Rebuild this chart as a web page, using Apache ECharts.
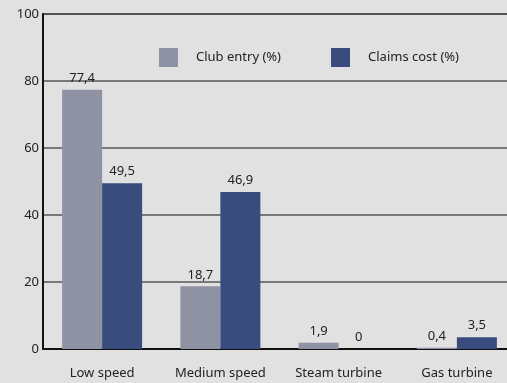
<!DOCTYPE html>
<html>
<head>
<meta charset="utf-8">
<script src="https://cdn.jsdelivr.net/npm/echarts@6/dist/echarts.min.js"></script>
<style>
  html, body { margin: 0; padding: 0; background: #e1e1e1; overflow: hidden; }
  /* plot area runs slightly past the right edge of the window */
  #chart { width: 516px; height: 383px; }
</style>
</head>
<body>
<div id="chart"></div>
<script>
// Engine types and their share of club entries vs. claims cost
const categories = ['Low speed', 'Medium speed', 'Steam turbine', 'Gas turbine'];
const clubEntry = [77.4, 18.7, 1.9, 0.4];
const claimsCost = [49.5, 46.9, 0, 3.5];
const yTicks = [0, 20, 40, 60, 80, 100];

const FONT = '"Noto Sans", Lato, sans-serif';
const fmt = p => String(p.value).replace('.', ',');

const chart = echarts.init(document.getElementById('chart'));
chart.setOption({
  backgroundColor: '#e1e1e1',
  animation: false,
  textStyle: { fontFamily: FONT },
  grid: { left: 43, right: 0, top: 14, bottom: 34, containLabel: false },
  legend: {
    top: 43,
    left: 154,
    itemWidth: 19,
    itemHeight: 19,
    itemGap: 50,
    icon: 'rect',
    textStyle: { fontSize: 13, color: '#222', fontFamily: FONT, padding: [0, 0, 0, 13] },
    data: ['Club entry (%)', 'Claims cost (%)']
  },
  xAxis: {
    type: 'category',
    data: categories,
    axisLine: { lineStyle: { color: '#111', width: 2 } },
    axisTick: { show: false },
    axisLabel: { interval: 0, fontSize: 13, color: '#222', margin: 18, fontFamily: FONT }
  },
  yAxis: {
    type: 'value',
    min: yTicks[0],
    max: yTicks[yTicks.length - 1],
    interval: 20,
    axisLine: { show: true, lineStyle: { color: '#111', width: 2 } },
    axisTick: { show: false },
    axisLabel: { fontSize: 13, color: '#222', margin: 4, fontFamily: FONT },
    splitLine: { lineStyle: { color: ['#111', '#555', '#555', '#555', '#555', '#222'], width: 1.5 } }
  },
  series: [
    {
      name: 'Club entry (%)',
      type: 'bar',
      data: clubEntry,
      barWidth: 40,
      barGap: '0%',
      itemStyle: { color: '#8e92a2' },
      label: { show: true, position: 'top', distance: 5, fontSize: 13, color: '#222', formatter: fmt, fontFamily: FONT }
    },
    {
      name: 'Claims cost (%)',
      type: 'bar',
      data: claimsCost,
      barWidth: 40,
      barGap: '0%',
      itemStyle: { color: '#3a4c7e' },
      label: { show: true, position: 'top', distance: 5, fontSize: 13, color: '#222', formatter: fmt, fontFamily: FONT }
    }
  ]
});
</script>
</body>
</html>
